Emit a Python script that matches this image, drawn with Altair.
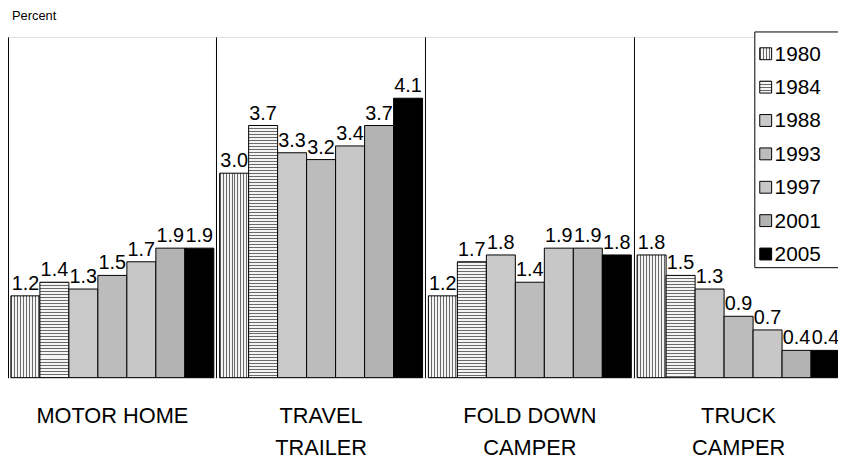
import altair as alt
import pandas as pd

# ---- data ----
categories = ["MOTOR HOME", "TRAVEL|TRAILER", "FOLD DOWN|CAMPER", "TRUCK|CAMPER"]
years = ["1980", "1984", "1988", "1993", "1997", "2001", "2005"]
motor_home = [1.2, 1.4, 1.3, 1.5, 1.7, 1.9, 1.9]
travel_trailer = [3.0, 3.7, 3.3, 3.2, 3.4, 3.7, 4.1]
fold_down_camper = [1.2, 1.7, 1.8, 1.4, 1.9, 1.9, 1.8]
truck_camper = [1.8, 1.5, 1.3, 0.9, 0.7, 0.4, 0.4]

series = [motor_home, travel_trailer, fold_down_camper, truck_camper]
rows = []
for cat, vals in zip(categories, series):
    for yr, v in zip(years, vals):
        rows.append({"category": cat, "year": yr, "value": v})
df = pd.DataFrame(rows)

# ---- styling helpers ----
PLOT_W, PLOT_H = 843, 344
PX_PER_UNIT = PLOT_H / 5.0
BAR_W = PLOT_W / 4 / 7.2
FONT = "Liberation Sans"


def stripes(length_px, vertical, period=3.0, dark_px=1.0, dark="#6a6a6a", light="#f4f4f4"):
    """Stripe gradient with a fixed pixel period over a box of the given length."""
    stops = []
    k = 0
    while k * period < length_px:
        a = min(1.0, k * period / length_px)
        b = min(1.0, (k * period + dark_px) / length_px)
        c = min(1.0, (k + 1) * period / length_px)
        stops += [
            {"offset": a, "color": dark},
            {"offset": b, "color": dark},
            {"offset": b, "color": light},
            {"offset": c, "color": light},
        ]
        k += 1
    if vertical:
        return {"gradient": "linear", "x1": 0, "y1": 0, "x2": 1, "y2": 0, "stops": stops}
    return {"gradient": "linear", "x1": 0, "y1": 0, "x2": 0, "y2": 1, "stops": stops}


solid_fills = {
    "1988": "#c9c9c9",
    "1993": "#bcbcbc",
    "1997": "#c7c7c7",
    "2001": "#b3b3b3",
    "2005": "#000000",
}

X = alt.X(
    "category:N",
    sort=categories,
    scale=alt.Scale(domain=categories, paddingInner=0, paddingOuter=0),
    axis=alt.Axis(
        title=None,
        labelAngle=0,
        labelExpr="split(datum.value, '|')",
        labelFontSize=22,
        labelFont=FONT,
        labelColor="black",
        labelPadding=28,
        labelLineHeight=33,
        labelBaseline="top",
        ticks=False,
        domain=False,
        grid=True,
        gridColor="black",
        gridWidth=1,
        gridOpacity=1,
        bandPosition=0,
    ),
)
XO = alt.XOffset(
    "year:N",
    sort=years,
    scale=alt.Scale(domain=years, paddingInner=0, paddingOuter=0.1),
)
Y = alt.Y("value:Q", scale=alt.Scale(domain=[0, 5], nice=False), axis=None)

base = alt.Chart(df)
layers = []

# 1980: vertical stripes
layers.append(
    base.transform_filter(alt.datum.year == "1980")
    .mark_bar(stroke="black", strokeWidth=1, fill=stripes(BAR_W, True))
    .encode(x=X, xOffset=XO, y=Y)
)
# 1984: horizontal stripes (one layer per bar so stripe spacing stays even)
for cat, vals in zip(categories, series):
    v = vals[years.index("1984")]
    layers.append(
        base.transform_filter((alt.datum.year == "1984") & (alt.datum.category == cat))
        .mark_bar(stroke="black", strokeWidth=1, fill=stripes(v * PX_PER_UNIT, False))
        .encode(x=X, xOffset=XO, y=Y)
    )
# other years: grey tones / black
for yr, col in solid_fills.items():
    layers.append(
        base.transform_filter(alt.datum.year == yr)
        .mark_bar(stroke="black", strokeWidth=1, fill=col)
        .encode(x=X, xOffset=XO, y=Y)
    )

# value labels
layers.append(
    base.mark_text(baseline="alphabetic", dy=-6, fontSize=20, font=FONT, color="black")
    .encode(x=X, xOffset=XO, y=Y, text=alt.Text("value:Q", format=".1f"))
)

# legend (drawn manually so swatches can carry the stripe patterns)
one = pd.DataFrame({"k": [0]})
layers.append(
    alt.Chart(one)
    .mark_rect(fill="white", stroke="black", strokeWidth=1)
    .encode(x=alt.value(754), x2=alt.value(900), y=alt.value(-5), y2=alt.value(233))
)
leg_fill = {"1980": stripes(12, True), "1984": stripes(12, False)}
leg_fill.update(solid_fills)
for i, yr in enumerate(years):
    yc = 17 + i * 33.7
    layers.append(
        alt.Chart(one)
        .mark_rect(fill=leg_fill[yr], stroke="black", strokeWidth=1)
        .encode(x=alt.value(759), x2=alt.value(771), y=alt.value(yc - 6), y2=alt.value(yc + 6))
    )
    layers.append(
        alt.Chart(one)
        .mark_text(align="left", baseline="middle", fontSize=21, font=FONT, color="black")
        .encode(x=alt.value(774), y=alt.value(yc + 1), text=alt.value(yr))
    )

chart = (
    alt.layer(*layers)
    .properties(
        width=PLOT_W,
        height=PLOT_H,
        autosize="none",
        padding={"left": 0, "top": 27, "right": -5, "bottom": 83},
        title=alt.TitleParams(
            text="Percent",
            anchor="start",
            fontSize=13,
            fontWeight="normal",
            font=FONT,
            color="black",
            offset=9,
            dx=4,
        ),
    )
    .configure_view(stroke="black", strokeWidth=1)
    .configure(font=FONT)
)

chart.save("out.html", embed_options={"renderer": "svg", "actions": False})
